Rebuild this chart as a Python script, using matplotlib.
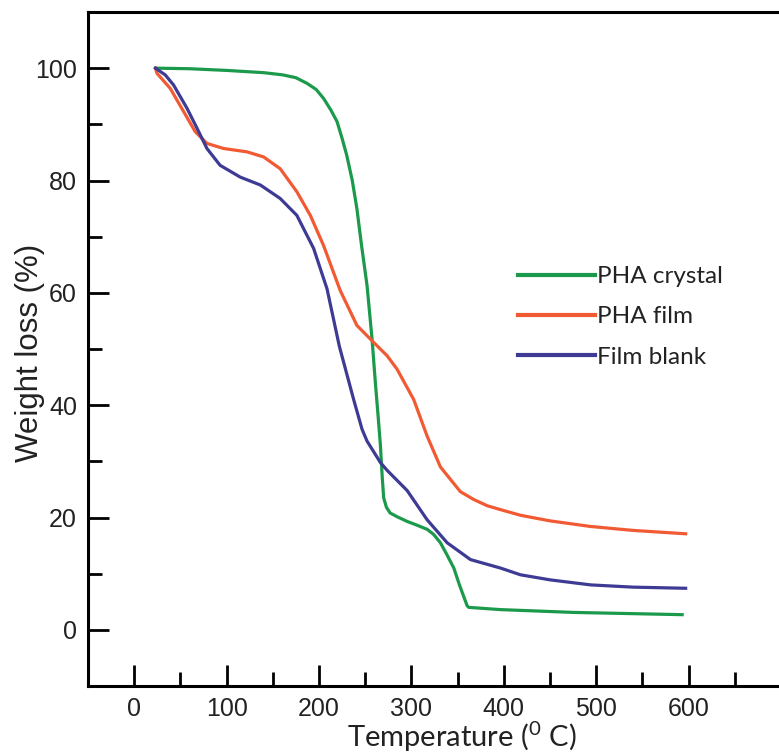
import matplotlib
matplotlib.use("Agg")
import matplotlib.pyplot as plt
from matplotlib.ticker import MultipleLocator

plt.rcParams['mathtext.fontset'] = 'custom'
plt.rcParams['mathtext.rm'] = 'Lato'

# PHA crystal
crystal_x = [23.5, 60, 100, 140, 161, 175, 187, 197, 205, 213, 219.5, 225, 230, 236, 241,
             246, 252, 257.4, 261, 264, 266.4, 268.5, 270, 273, 277, 285, 295.4, 305, 317,
             324, 331.4, 338.7, 345.9, 352, 360.3, 362, 396.4, 475.5, 593]
crystal_y = [100, 99.9, 99.6, 99.2, 98.8, 98.3, 97.3, 96.2, 94.6, 92.5, 90.5, 87.5, 84.5, 80,
             75, 68.5, 61.3, 51.8, 44, 38, 33, 27, 23.5, 21.8, 20.8, 20.1, 19.3, 18.7, 17.9,
             17, 15.5, 13.3, 11.0, 8.0, 4.3, 4.0, 3.6, 3.1, 2.7]
# PHA film
film_x = [23, 24.6, 39, 53.4, 66, 78.7, 96.7, 122, 140, 158, 176, 190.6, 205, 223, 241, 259,
          273.7, 284.5, 302.5, 317, 331.4, 353, 367.5, 382, 396.4, 418, 450, 494, 540, 596.8]
film_y = [100, 99.1, 96.4, 92.3, 88.7, 86.6, 85.7, 85.1, 84.2, 82.1, 78, 73.8, 68.4, 60.4,
          54.2, 51.2, 48.8, 46.4, 41, 34.5, 29.0, 24.6, 23.2, 22.1, 21.4, 20.4, 19.4, 18.4,
          17.7, 17.1]
# Film blank
blank_x = [23, 33.6, 42.6, 57, 68, 78.7, 93, 114.8, 136.5, 158, 176, 194.2, 208.7, 222,
           237.5, 246.6, 252, 266.4, 273.7, 295.4, 317, 338.7, 364, 396.4, 418, 450, 494,
           540, 596.8]
blank_y = [100, 98.8, 97, 92.9, 89.3, 85.7, 82.7, 80.6, 79.2, 76.8, 73.8, 67.9, 60.7, 50.5,
           41, 35.7, 33.6, 29.8, 28.4, 24.8, 19.6, 15.5, 12.5, 11, 9.8, 8.9, 8, 7.6, 7.4]

labels = ["PHA crystal", "PHA film", "Film blank"]
colors = ["#1b9a4b", "#f15a32", "#3d3b94"]

W, H = 779, 755
fig = plt.figure(figsize=(W / 100, H / 100), dpi=100)
fig.patch.set_facecolor('white')
left, right, top, bottom = 88, 781, 12, 686
ax = fig.add_axes([left / W, (H - bottom) / H, (right - left) / W, (bottom - top) / H])

for xs, ys, lab, c in zip([crystal_x, film_x, blank_x], [crystal_y, film_y, blank_y], labels, colors):
    ax.plot(xs, ys, color=c, lw=2.3, label=lab, solid_joinstyle='round')

ax.set_xlim(-50, 700)
ax.set_ylim(-10, 110)
ax.xaxis.set_minor_locator(MultipleLocator(50))
ax.yaxis.set_minor_locator(MultipleLocator(10))
ax.set_xticks(range(0, 601, 100))
ax.set_xticklabels([str(v) for v in range(0, 601, 100)])
ax.set_yticks(range(0, 101, 20))
ax.set_yticklabels([str(v) for v in range(0, 101, 20)])
ax.tick_params(which='major', direction='in', length=15, width=2, labelsize=18, pad=8,
               top=False, right=False)
ax.tick_params(which='minor', direction='in', length=10, width=2, top=False, right=False)
for lbl in ax.get_xticklabels() + ax.get_yticklabels():
    lbl.set_fontfamily('Liberation Sans')
    lbl.set_color('#222222')
for s in ax.spines.values():
    s.set_linewidth(2.2)
ax.spines['right'].set_visible(False)

fig.text(30 / W, 1 - 353 / H, "Weight loss (%)", rotation=90, ha='center', va='center',
         fontsize=22.5, family='Liberation Sans', color='#222222')
fig.text(462 / W, 1 - 737 / H, r"Temperature ($^{0}$ C)", ha='center', va='center',
         fontsize=21, family='Lato', color='#222222')

leg = ax.legend(loc='upper left', bbox_to_anchor=(518 / W, 1 - 266 / H),
                bbox_transform=fig.transFigure, frameon=False, handlelength=3.15,
                handletextpad=0.12, labelspacing=0.8, borderpad=0, borderaxespad=0,
                prop={'family': 'Lato', 'size': 17.5})
for t in leg.get_texts():
    t.set_color('#222222')
for l in leg.get_lines():
    l.set_linewidth(3)

fig.savefig("out.png", dpi=100, facecolor='white')
